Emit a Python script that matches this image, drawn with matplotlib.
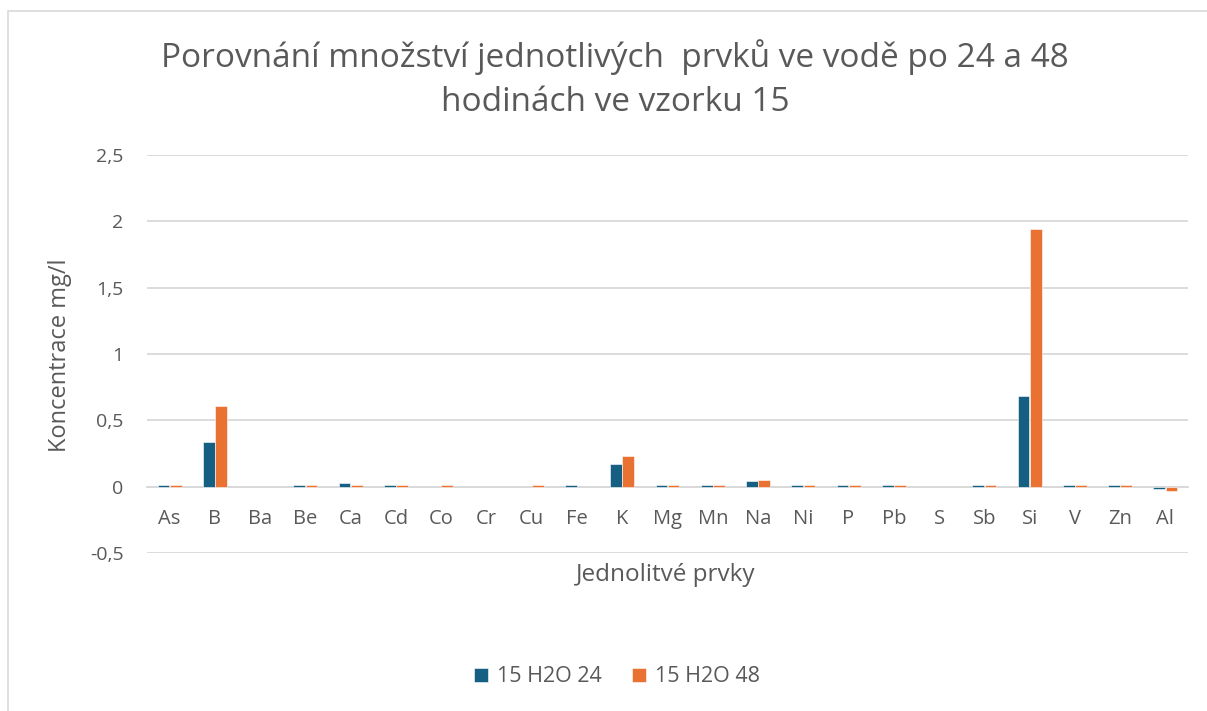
import matplotlib.pyplot as plt
import numpy as np
from matplotlib.patches import Rectangle
from matplotlib.ticker import FuncFormatter

plt.rcParams['font.family'] = ['Open Sans', 'DejaVu Sans']

# prvky a namerene hodnoty (mg/l)
prvky = ['As', 'B', 'Ba', 'Be', 'Ca', 'Cd', 'Co', 'Cr', 'Cu', 'Fe', 'K', 'Mg',
         'Mn', 'Na', 'Ni', 'P', 'Pb', 'S', 'Sb', 'Si', 'V', 'Zn', 'Al']
h24 = [0.015, 0.34, 0.0, 0.015, 0.03, 0.015, 0.0, 0.0, 0.0, 0.015, 0.173, 0.015,
       0.015, 0.04, 0.015, 0.015, 0.015, 0.0, 0.015, 0.68, 0.015, 0.015, -0.02]
h48 = [0.015, 0.61, 0.0, 0.015, 0.015, 0.015, 0.015, 0.0, 0.015, 0.0, 0.233, 0.015,
       0.015, 0.053, 0.015, 0.015, 0.015, 0.0, 0.015, 1.94, 0.015, 0.015, -0.035]
serie = ['15 H2O 24', '15 H2O 48']

modra = '#156082'
oranz = '#E97132'
seda = '#595959'

fig = plt.figure(figsize=(12.07, 7.11), dpi=100)
ax = fig.add_axes([147/1207, 1-553/711, (1188-147)/1207, (553-155)/711])

x = np.arange(len(prvky))
w = 0.26
for off, vals, barva, jm in [(-0.135, h24, modra, serie[0]), (0.135, h48, oranz, serie[1])]:
    bars = ax.bar(x + off, vals, w, color=barva, edgecolor='white', linewidth=0.4, label=jm, zorder=3)
    for b, v in zip(bars, vals):
        if v == 0:
            b.set_visible(False)

ax.set_xlim(-0.5, len(prvky) - 0.5)
ax.set_ylim(-0.5, 2.5)
ax.set_yticks([-0.5, 0, 0.5, 1, 1.5, 2, 2.5])
ax.yaxis.set_major_formatter(FuncFormatter(lambda v, p: ('%g' % v).replace('.', ',')))
ax.grid(axis='y', color='#D9D9D9', linewidth=1.3, zorder=0)
for s in ['top', 'right', 'left']:
    ax.spines[s].set_visible(False)
ax.spines['bottom'].set_position(('data', 0))
ax.spines['bottom'].set_color('#D9D9D9')
ax.spines['bottom'].set_linewidth(1.3)

ax.set_xticks(x)
ax.set_xticklabels(prvky)
ax.tick_params(axis='x', length=0, pad=16, labelsize=14.5, labelcolor=seda)
ax.tick_params(axis='y', length=0, pad=17, labelsize=14, labelcolor=seda)

fig.text(0.5095, 1-79/711, 'Porovnání množství jednotlivých  prvků ve vodě po 24 a 48\nhodinách ve vzorku 15',
         ha='center', va='center', fontsize=24, color=seda, linespacing=1.42)
fig.text(60/1207, 1-355/711, 'Koncentrace mg/l', rotation=90, ha='center', va='center',
         fontsize=17, color=seda)
fig.text(666/1207, 1-575/711, 'Jednolitvé prvky', ha='center', va='center',
         fontsize=17.5, color=seda)

fig.legend(loc='center', bbox_to_anchor=(617/1207, 1-677/711), ncol=2, frameon=False,
           fontsize=15.5, labelcolor=seda, handlelength=0.65, handleheight=0.65,
           handletextpad=0.4, columnspacing=1.4)

# ramecek grafu
fig.patches.append(Rectangle((8/1207, -0.1), 1.2, 1-11/711 + 0.1, transform=fig.transFigure,
                             fill=False, edgecolor='#D9D9D9', linewidth=1.2))

fig.savefig('out.png', dpi=100)
